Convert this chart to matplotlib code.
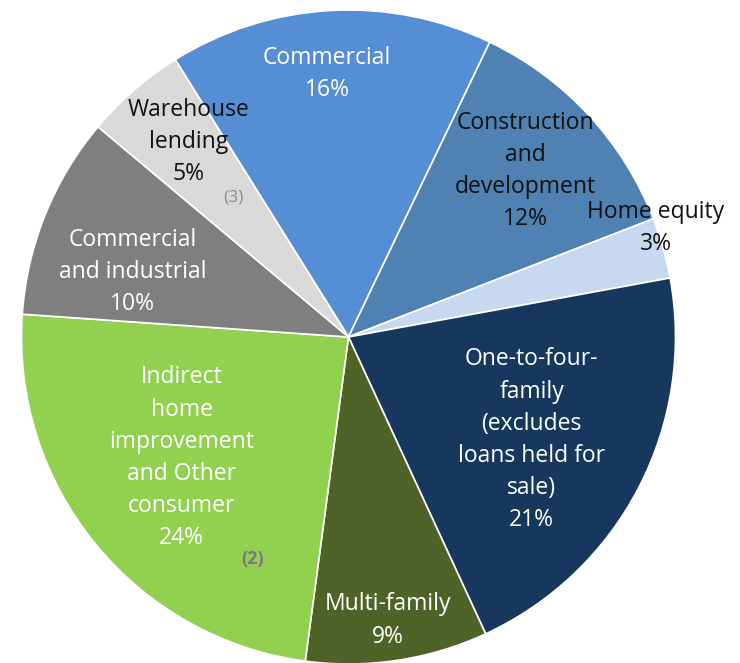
import matplotlib
matplotlib.use("Agg")
import matplotlib.pyplot as plt

# Loan portfolio composition (percent of total loans)
categories = [
    "Commercial",
    "Construction\nand\ndevelopment",
    "Home equity",
    "One-to-four-\nfamily\n(excludes\nloans held for\nsale)",
    "Multi-family",
    "Indirect\nhome\nimprovement\nand Other\nconsumer",
    "Commercial\nand industrial",
    "Warehouse\nlending",
]
shares = [16, 12, 3, 21, 9, 24, 10, 5]
footnotes = {5: "(2)", 7: "(3)"}

colors = ["#558ED5", "#4F81B3", "#C6D9F1", "#17375E",
          "#4F6228", "#92D050", "#7F7F7F", "#D9D9D9"]
text_colors = ["white", "#111111", "#111111", "white",
               "white", "white", "white", "#111111"]

# label block centres in pie-radius units
label_pos = [(-0.065, 0.804), (0.54, 0.508), (0.94, 0.334), (0.56, -0.314),
             (0.12, -0.867), (-0.51, -0.369), (-0.66, 0.20), (-0.49, 0.597)]
foot_pos = {5: (-0.294, -0.679), 7: (-0.352, 0.428)}

W, H = 740, 663
cx, cy, R = 348.5, 337, 327

fig = plt.figure(figsize=(W / 100, H / 100), dpi=100)
ax = fig.add_axes([(cx - R) / W, (H - cy - R) / H, 2 * R / W, 2 * R / H])

ax.pie(shares, colors=colors, startangle=122, counterclock=False,
       radius=1.0, wedgeprops=dict(edgecolor="white", linewidth=1.2))
ax.set_xlim(-1, 1)
ax.set_ylim(-1, 1)
ax.set_aspect("equal")
ax.set_axis_off()

font = ["Open Sans", "DejaVu Sans"]
for i, (name, val) in enumerate(zip(categories, shares)):
    x, y = label_pos[i]
    ax.text(x, y, f"{name}\n{val}%", ha="center", va="center",
            color=text_colors[i], fontsize=16.5, family=font,
            linespacing=1.45)

for i, note in footnotes.items():
    x, y = foot_pos[i]
    bold = i == 5
    ax.text(x, y, note, ha="center", va="center",
            color="#7F7388" if bold else "#8C8C8C",
            fontsize=13 if bold else 12.5, family=font,
            fontweight="bold" if bold else "normal")

fig.savefig("out.png", dpi=100)
